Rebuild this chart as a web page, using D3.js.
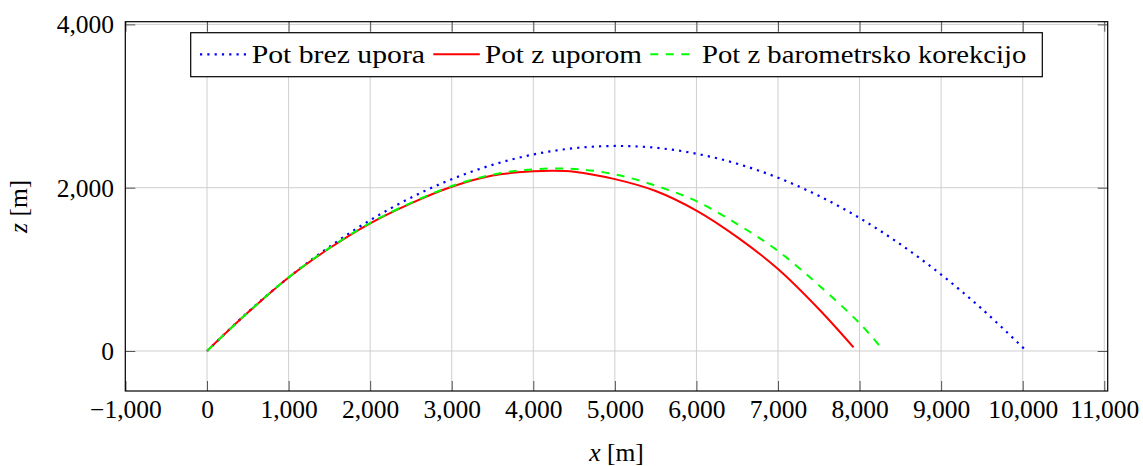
<!DOCTYPE html>
<html>
<head>
<meta charset="utf-8">
<script src="https://cdn.jsdelivr.net/npm/d3@7"></script>
<style>
body { margin: 0; background: #fff; }
</style>
</head>
<body>
<svg id="chart" width="1143" height="466"></svg>
<script>
// path without drag [m]
const freeX = [0, 500, 1000, 1500, 2000, 2500, 3000, 3500, 4000, 4500, 5000, 5500, 6000, 6500, 7000, 7500, 8000, 8500, 9000, 9500, 10020];
const freeZ = [0, 475, 900, 1276, 1602, 1878, 2104, 2280, 2407, 2484, 2511, 2489, 2416, 2294, 2122, 1900, 1629, 1307, 936, 515, 25];

// path with drag
const dragX = [0, 500, 1000, 1500, 2000, 2500, 3000, 3500, 4000, 4250, 4500, 5000, 5500, 6000, 6500, 7000, 7500, 7926];
const dragZ = [0, 470, 900, 1258, 1564, 1809, 2012, 2150, 2200, 2208, 2196, 2105, 1960, 1720, 1395, 1005, 515, 45];

// path with drag and barometric correction
const baroX = [0, 500, 1000, 1500, 2000, 2500, 3000, 3500, 4000, 4500, 5000, 5500, 6000, 6500, 7000, 7500, 8000, 8273];
const baroZ = [0, 470, 902, 1262, 1568, 1815, 2020, 2160, 2225, 2230, 2164, 2025, 1835, 1555, 1225, 805, 340, 30];

const xTicks = [-1000, 0, 1000, 2000, 3000, 4000, 5000, 6000, 7000, 8000, 9000, 10000, 11000];
const yTicks = [0, 2000, 4000];
const seriesNames = ["Pot brez upora", "Pot z uporom", "Pot z barometrsko korekcijo"];

const FONT = "'Liberation Serif', 'DejaVu Serif', serif";
const plot = {left: 125.3, right: 1107.7, top: 21.7, bottom: 391};

const svg = d3.select("#chart")
    .attr("font-family", FONT)
    .attr("font-size", 25.5);

const x = d3.scaleLinear().domain([-1002, 11042]).range([plot.left, plot.right]);
const y = d3.scaleLinear().domain([-490, 4033]).range([plot.bottom, plot.top]);
const fmt = d3.format(",");

function setFont(sel) {
    sel.style("font-family", FONT).style("font-size", "25.5px").attr("fill", "#000");
}

// grid
const grid = svg.append("g").attr("stroke", "#cfcfcf").attr("stroke-width", 1);
grid.selectAll(".gx").data(xTicks).enter().append("line")
    .attr("x1", d => x(d)).attr("x2", d => x(d))
    .attr("y1", plot.top).attr("y2", plot.bottom);
grid.selectAll(".gy").data(yTicks).enter().append("line")
    .attr("x1", plot.left).attr("x2", plot.right)
    .attr("y1", d => y(d)).attr("y2", d => y(d));

// axes, ticks pointing inwards on all four sides
function styleAxis(g) {
    g.attr("font-family", null).attr("font-size", null);
    g.select(".domain").remove();
    g.selectAll(".tick line").attr("stroke", "#555").attr("stroke-width", 1);
}

svg.append("g")
    .attr("transform", `translate(0,${plot.bottom})`)
    .call(d3.axisBottom(x).tickValues(xTicks).tickSize(-10).tickFormat(fmt))
    .call(styleAxis)
    .call(g => g.selectAll("text").attr("y", 27).attr("dy", null).call(setFont));

svg.append("g")
    .attr("transform", `translate(0,${plot.top})`)
    .call(d3.axisTop(x).tickValues(xTicks).tickSize(-10).tickFormat(""))
    .call(styleAxis);

svg.append("g")
    .attr("transform", `translate(${plot.left},0)`)
    .call(d3.axisLeft(y).tickValues(yTicks).tickSize(-10).tickFormat(fmt))
    .call(styleAxis)
    .call(g => g.selectAll("text").attr("x", -11.3).attr("dy", null).attr("y", 8.5).call(setFont));

svg.append("g")
    .attr("transform", `translate(${plot.right},0)`)
    .call(d3.axisRight(y).tickValues(yTicks).tickSize(-10).tickFormat(""))
    .call(styleAxis);

// curves
const styles = [
    {color: "#0000ff", dash: "2.2 5.1", width: 2.2},
    {color: "#ff0000", dash: null, width: 2},
    {color: "#00ff00", dash: "8 7.5", width: 2}
];
const series = [d3.zip(freeX, freeZ), d3.zip(dragX, dragZ), d3.zip(baroX, baroZ)];

const line = d3.line()
    .x(d => x(d[0]))
    .y(d => y(d[1]))
    .curve(d3.curveCatmullRom.alpha(0.5));

series.forEach((s, i) => {
    svg.append("path")
        .datum(s)
        .attr("d", line)
        .attr("fill", "none")
        .attr("stroke", styles[i].color)
        .attr("stroke-width", styles[i].width)
        .attr("stroke-dasharray", styles[i].dash);
});

// frame
svg.append("rect")
    .attr("x", plot.left).attr("y", plot.top)
    .attr("width", plot.right - plot.left).attr("height", plot.bottom - plot.top)
    .attr("fill", "none").attr("stroke", "#000").attr("stroke-width", 1.2);

// axis labels
const xl = svg.append("text")
    .attr("x", (plot.left + plot.right) / 2).attr("y", 461)
    .attr("text-anchor", "middle")
    .call(setFont);
xl.append("tspan").attr("font-style", "italic").text("x");
xl.append("tspan").text(" [m]");

const yl = svg.append("text")
    .attr("transform", `translate(27,${(plot.top + plot.bottom) / 2}) rotate(-90)`)
    .attr("text-anchor", "middle")
    .call(setFont);
yl.append("tspan").attr("font-style", "italic").text("z");
yl.append("tspan").text(" [m]");

// legend
const legend = svg.append("g");
legend.append("rect")
    .attr("x", 190.7).attr("y", 32.7).attr("width", 851.6).attr("height", 44)
    .attr("fill", "#fff").attr("stroke", "#000").attr("stroke-width", 1.2);

const textW = [173.3, 157, 324.4];   // widths of the legend texts in the reference
let lx = 200;
seriesNames.forEach((name, i) => {
    legend.append("line")
        .attr("x1", lx).attr("x2", lx + 46.5)
        .attr("y1", 54.3).attr("y2", 54.3)
        .attr("stroke", styles[i].color)
        .attr("stroke-width", styles[i].width)
        .attr("stroke-dasharray", styles[i].dash);
    const tx = lx + 51.7;
    legend.append("text")
        .attr("x", tx).attr("y", 62.5)
        .attr("textLength", textW[i])
        .attr("lengthAdjust", "spacingAndGlyphs")
        .call(setFont)
        .text(name);
    lx = tx + textW[i] + 8.3;
});
</script>
</body>
</html>
